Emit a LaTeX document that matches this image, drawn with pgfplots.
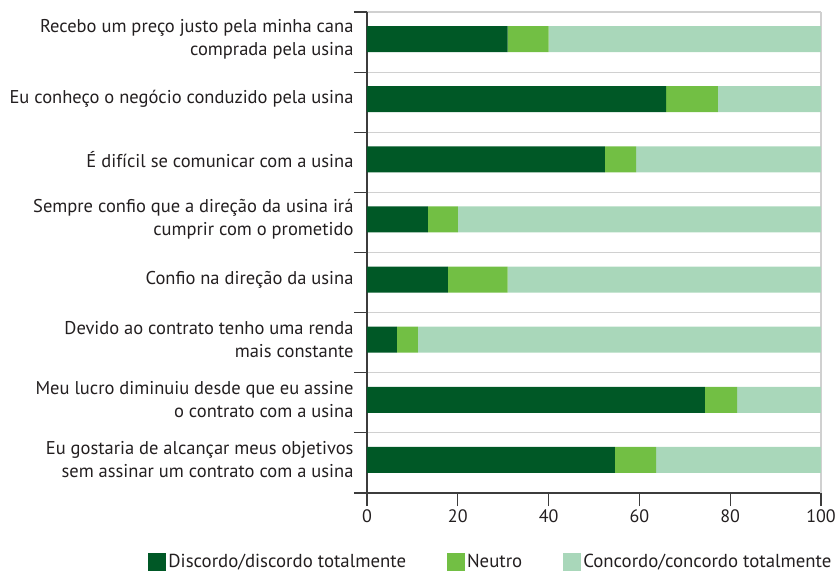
\documentclass[border=0pt]{standalone}
\usepackage{pgfplots}
\pgfplotsset{compat=1.18}
\usepackage{fontspec}
\setmainfont{PT Sans}
\definecolor{dg}{HTML}{005826}
\definecolor{mg}{HTML}{72BF44}
\definecolor{lg}{HTML}{A9D7BA}
\definecolor{axc}{HTML}{3C3C3C}
\definecolor{grc}{HTML}{D0D0D0}
\definecolor{txt}{HTML}{231F20}
\begin{document}
\begin{tikzpicture}
\path[use as bounding box] (-367pt,-80pt) rectangle (469pt,493pt);
\begin{axis}[
  at={(0pt,0pt)}, anchor=south west,
  scale only axis, width=454pt, height=481pt,
  xbar stacked, bar width=0.433,
  xmin=0, xmax=100, ymin=-0.45, ymax=7.55, y dir=reverse,
  axis x line*=bottom, axis y line*=left,
  axis line style={axc, line width=1.2pt, -},
  tick align=outside, major tick length=13pt, minor tick length=13pt,
  tick style={axc, line width=1.2pt},
  major y tick style={draw=none},
  xtick={0,20,...,100},
  ytick={0,...,7},
  minor ytick={-0.45,0.55,...,7.55},
  yminorgrids=true,
  minor grid style={draw=grc, line width=1.2pt},
  extra x ticks={100}, extra x tick labels={},
  extra x tick style={grid=major, major grid style={draw=grc, line width=1.2pt}, major x tick style={draw=none}},
  yticklabels={{Recebo um preço justo pela minha cana\\comprada pela usina},
    {Eu conheço o negócio conduzido pela usina},
    {É difícil se comunicar com a usina},
    {Sempre confio que a direção da usina irá\\cumprir com o prometido},
    {Confio na direção da usina},
    {Devido ao contrato tenho uma renda\\mais constante},
    {Meu lucro diminuiu desde que eu assine\\o contrato com a usina},
    {Eu gostaria de alcançar meus objetivos\\sem assinar um contrato com a usina}},
  yticklabel style={align=right, font=\fontsize{18.5}{23}\selectfont, text=txt, xshift=3pt},
  xticklabel style={font=\fontsize{18}{20}\selectfont, text=txt},
  /pgf/number format/assume math mode=true,
  legend style={at={(0.273,-0.143)}, anchor=center, draw=none, fill=none,
    legend columns=3, font=\fontsize{18.8}{20}\selectfont, text=txt,
    /tikz/every even column/.append style={column sep=39pt}},
  legend image code/.code={\path[#1] (0pt,-9pt) rectangle (18pt,9pt);},
]
\addplot[fill=dg, draw=none] coordinates {(31,0) (65.9,1) (52.4,2) (13.4,3) (17.8,4) (6.6,5) (74.4,6) (54.6,7)};
\addplot[fill=mg, draw=none] coordinates {(9,0) (11.4,1) (6.9,2) (6.6,3) (13.2,4) (4.6,5) (7.1,6) (9.1,7)};
\addplot[fill=lg, draw=none] coordinates {(60,0) (22.7,1) (40.7,2) (80,3) (69,4) (88.8,5) (18.5,6) (36.3,7)};
\legend{Discordo/discordo totalmente, Neutro, Concordo/concordo totalmente}
\end{axis}
\end{tikzpicture}
\end{document}
